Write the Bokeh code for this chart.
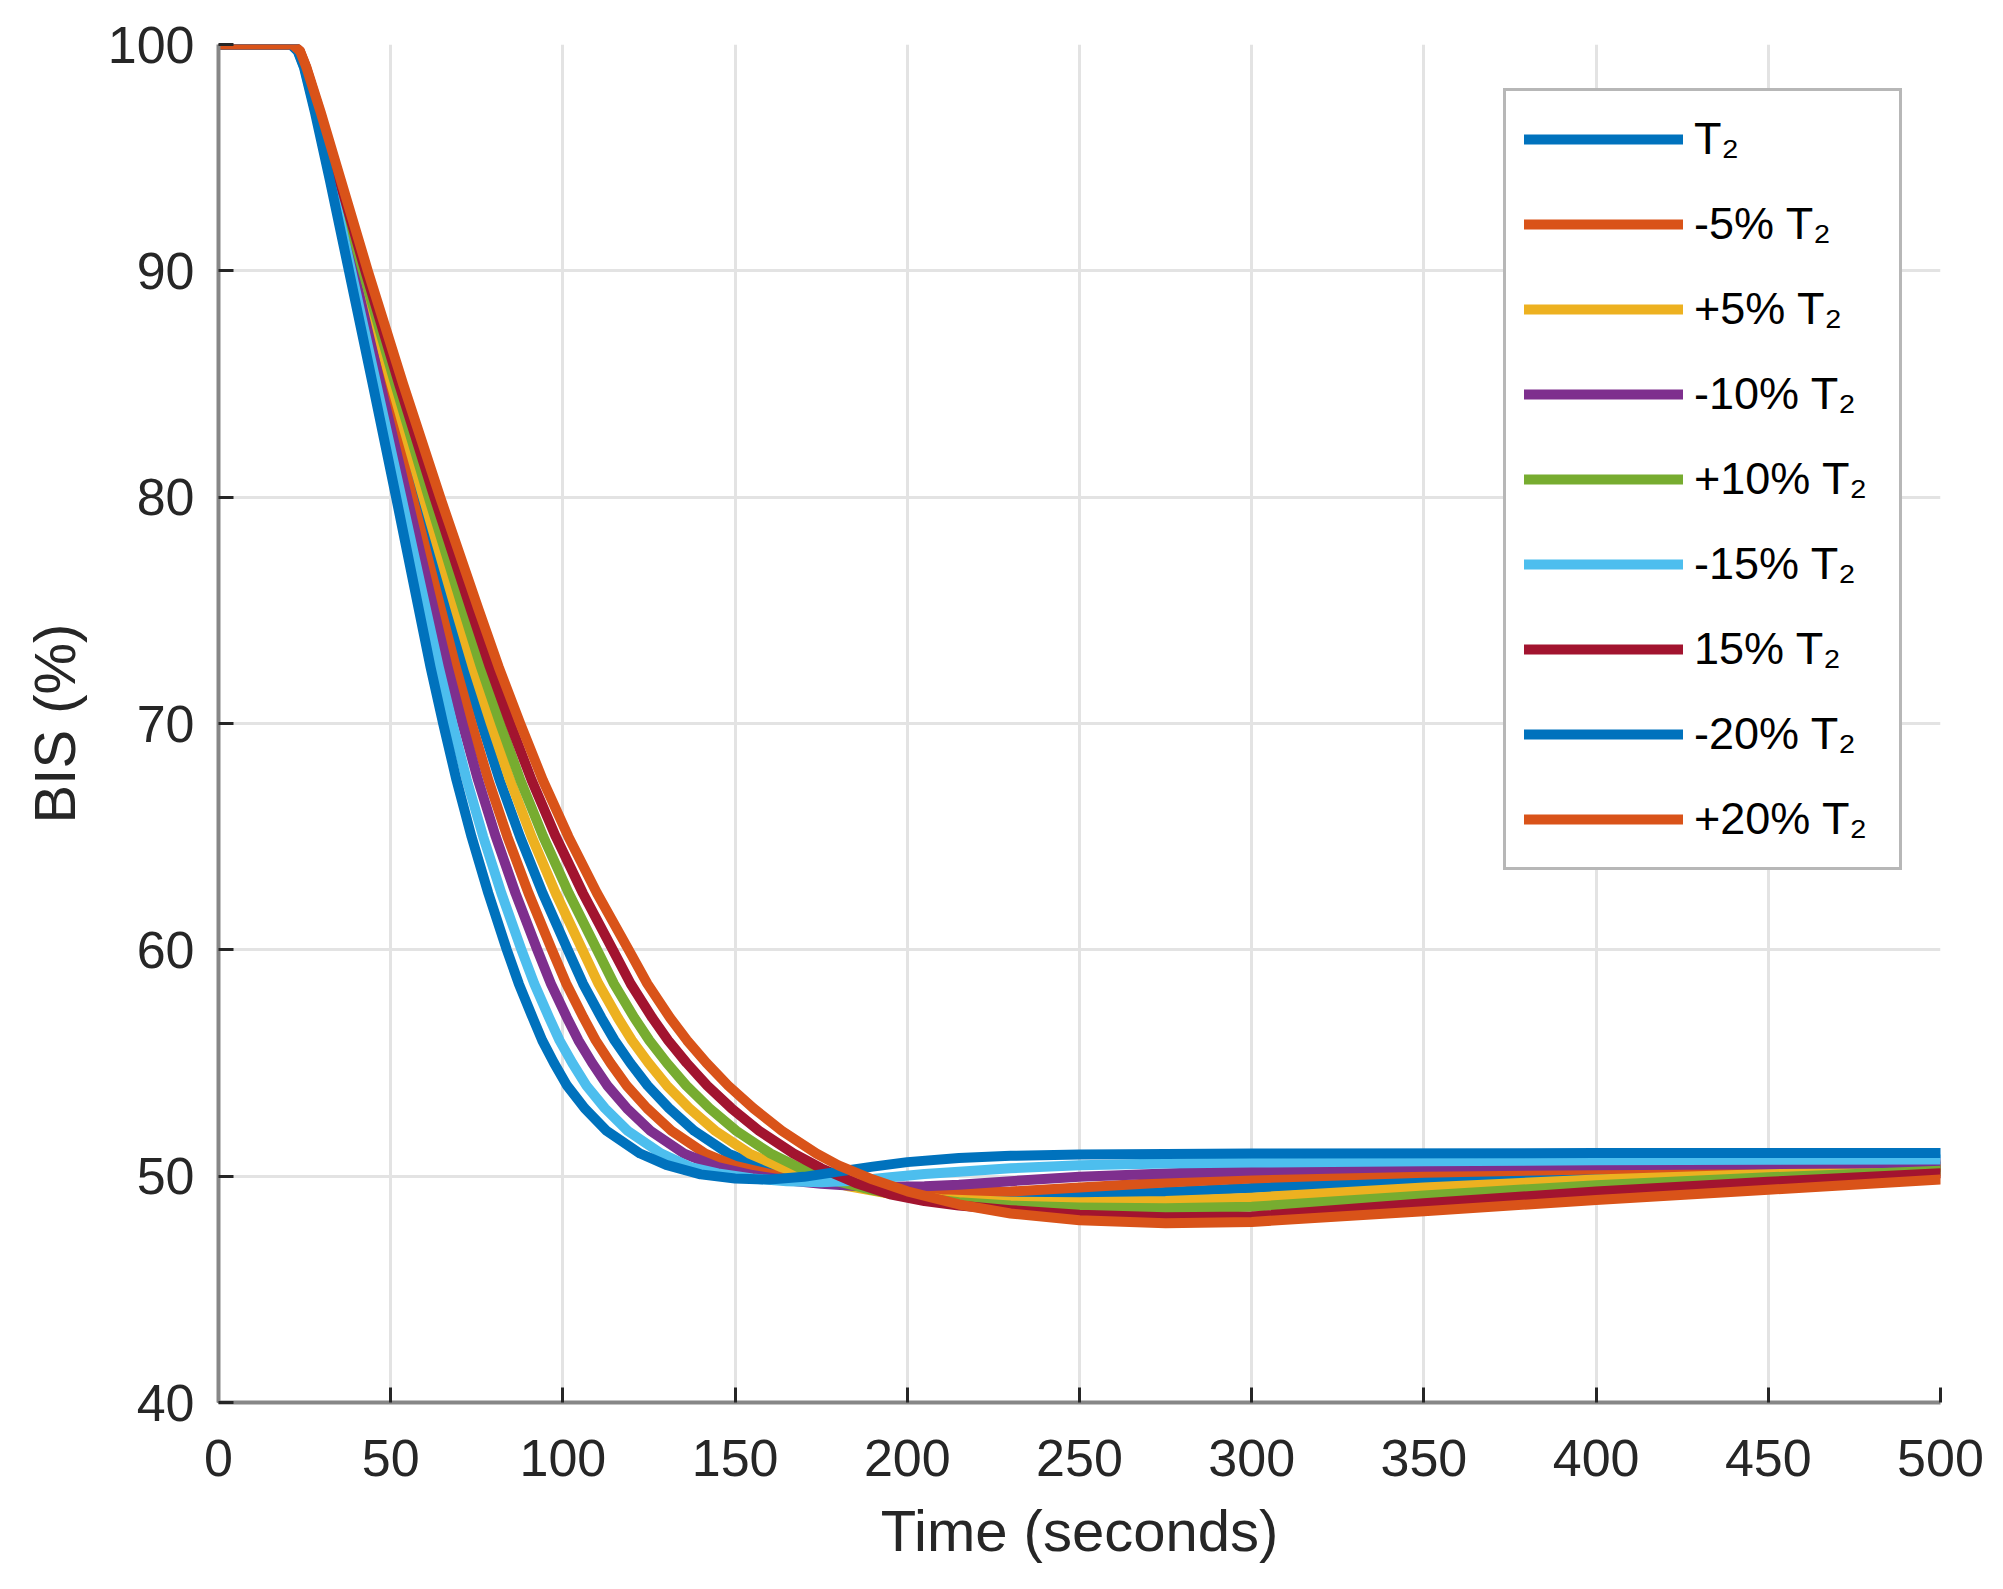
from bokeh.plotting import figure
from bokeh.models import Range1d, FixedTicker
from bokeh.embed import file_html
from bokeh.resources import INLINE

# ---- data ----
labels = ["T\u2082", "-5% T\u2082", "+5% T\u2082", "-10% T\u2082", "+10% T\u2082",
          "-15% T\u2082", "15% T\u2082", "-20% T\u2082", "+20% T\u2082"]
colors = ["#0072BD", "#D95319", "#EDB120", "#7E2F8E", "#77AC30",
          "#4DBEEE", "#A2142F", "#0072BD", "#D95319"]

x_ticks = [0, 50, 100, 150, 200, 250, 300, 350, 400, 450, 500]
y_ticks = [40, 50, 60, 70, 80, 90, 100]

# BIS levels passed during the descent (shared by all series)
descent_levels = [100, 100, 99.7, 99, 97, 94, 90, 85, 80, 75, 72.5, 70, 67.5, 65, 62.5,
                  60, 58.5, 57, 56, 55, 54, 53, 52, 51]

# times (s) at which each series passes the descent levels
t_T2  = [0, 21.25, 23.35, 25.15, 28.85, 33.95, 40.61, 49.19, 57.96, 66.91, 71.46, 76.41, 81.63, 87.54, 94.13, 101.41, 105.86, 111.16, 115.01, 119.56, 124.61, 130.81, 138.16, 148.01]
t_m5  = [0, 21.19, 23.26, 25.06, 28.63, 33.53, 39.9, 48.04, 56.3, 64.65, 68.88, 73.5, 78.37, 83.88, 90.03, 96.81, 101.0, 105.98, 109.53, 113.8, 118.52, 124.44, 131.55, 141.36]
t_p5  = [0, 21.31, 23.43, 25.23, 29.05, 34.33, 41.27, 50.24, 59.49, 68.98, 73.83, 79.1, 84.64, 90.91, 97.92, 105.66, 110.34, 115.95, 120.04, 124.87, 130.22, 136.69, 144.27, 154.15]
t_m10 = [0, 21.13, 23.18, 24.98, 28.43, 33.15, 39.24, 46.98, 54.77, 62.57, 66.52, 70.82, 75.36, 80.5, 86.24, 92.57, 96.53, 101.19, 104.5, 108.49, 112.92, 118.57, 125.44, 135.22]
t_p10 = [0, 21.37, 23.52, 25.32, 29.26, 34.72, 41.93, 51.3, 61.03, 71.08, 76.2, 81.78, 87.65, 94.29, 101.71, 109.9, 114.82, 120.73, 125.09, 130.19, 135.84, 142.57, 150.37, 160.29]
t_m15 = [0, 21.06, 23.08, 24.88, 28.2, 32.73, 38.53, 45.83, 53.1, 60.31, 63.94, 67.91, 72.11, 76.85, 82.14, 87.97, 91.69, 96.01, 99.02, 102.73, 106.83, 112.2, 118.83, 128.56]
t_p15 = [0, 21.44, 23.61, 25.41, 29.48, 35.13, 42.64, 52.45, 62.69, 73.34, 78.78, 84.69, 90.9, 97.94, 105.81, 114.5, 119.67, 125.92, 130.56, 135.94, 141.91, 148.93, 156.99, 166.95]
t_m20 = [0, 21.0, 23.0, 24.8, 28.0, 32.35, 37.87, 44.77, 51.57, 58.22, 61.56, 65.22, 69.1, 73.47, 78.35, 83.72, 87.2, 91.22, 93.99, 97.42, 101.22, 106.32, 112.72, 122.42]
t_p20 = [0, 21.5, 23.7, 25.5, 29.7, 35.55, 43.35, 53.6, 64.35, 75.6, 81.35, 87.6, 94.16, 101.6, 109.91, 119.1, 124.52, 131.1, 136.03, 141.7, 148.0, 155.3, 163.6, 173.6]

# settling part of each series: times and BIS values
tail_t_T2  = [157, 167, 177, 187, 200, 215, 230, 250, 275, 300, 350, 400, 450, 500]
tail_v_T2  = [50.45, 50.05, 49.75, 49.52, 49.32, 49.18, 49.12, 49.15, 49.3, 49.48, 49.85, 50.03, 50.23, 50.4]
tail_t_m5  = [150, 160, 170, 180, 190, 200, 215, 230, 250, 275, 300, 350, 400, 450, 500]
tail_v_m5  = [50.45, 50.1, 49.85, 49.65, 49.5, 49.4, 49.31, 49.32, 49.5, 49.72, 49.9, 50.15, 50.3, 50.4, 50.47]
tail_t_p5  = [163, 173, 183, 195, 210, 230, 250, 275, 300, 350, 400, 450, 500]
tail_v_p5  = [50.42, 49.93, 49.55, 49.22, 48.98, 48.87, 48.85, 48.9, 49.05, 49.5, 49.85, 50.1, 50.33]
tail_t_m10 = [145, 155, 165, 175, 185, 195, 205, 215, 230, 250, 275, 300, 350, 400, 450, 500]
tail_v_m10 = [50.4, 50.05, 49.82, 49.66, 49.57, 49.53, 49.55, 49.62, 49.78, 49.97, 50.12, 50.25, 50.42, 50.48, 50.53, 50.58]
tail_t_p10 = [169, 179, 190, 200, 215, 230, 250, 275, 300, 350, 400, 450, 500]
tail_v_p10 = [50.35, 49.8, 49.38, 49.1, 48.85, 48.7, 48.62, 48.58, 48.65, 49.15, 49.6, 49.95, 50.24]
tail_t_m15 = [137, 145, 155, 165, 175, 185, 195, 205, 215, 230, 250, 275, 300, 350, 400, 450, 500]
tail_v_m15 = [50.4, 50.12, 49.9, 49.77, 49.73, 49.8, 49.95, 50.1, 50.2, 50.35, 50.48, 50.56, 50.6, 50.66, 50.7, 50.72, 50.74]
tail_t_p15 = [175, 185, 195, 205, 215, 230, 250, 275, 300, 350, 400, 450, 500]
tail_v_p15 = [50.35, 49.7, 49.2, 48.9, 48.7, 48.5, 48.3, 48.18, 48.22, 48.8, 49.32, 49.75, 50.13]
tail_t_m20 = [130, 140, 150, 160, 170, 180, 190, 200, 215, 230, 250, 300, 400, 500]
tail_v_m20 = [50.5, 50.08, 49.9, 49.85, 49.97, 50.2, 50.42, 50.62, 50.8, 50.9, 50.96, 51.0, 51.02, 51.02]
tail_t_p20 = [180, 190, 200, 215, 230, 250, 275, 300, 350, 400, 450, 500]
tail_v_p20 = [50.48, 49.85, 49.33, 48.75, 48.35, 48.05, 47.92, 47.98, 48.45, 48.95, 49.4, 49.85]

series = [
    (t_T2, tail_t_T2, tail_v_T2),
    (t_m5, tail_t_m5, tail_v_m5),
    (t_p5, tail_t_p5, tail_v_p5),
    (t_m10, tail_t_m10, tail_v_m10),
    (t_p10, tail_t_p10, tail_v_p10),
    (t_m15, tail_t_m15, tail_v_m15),
    (t_p15, tail_t_p15, tail_v_p15),
    (t_m20, tail_t_m20, tail_v_m20),
    (t_p20, tail_t_p20, tail_v_p20),
]

FONT = "Liberation Sans"
TEXT = "#262626"

p = figure(width=1987, height=1573, output_backend="svg", toolbar_location=None,
           x_range=Range1d(0, 500), y_range=Range1d(40, 100),
           min_border_left=218, min_border_right=47, min_border_top=44, min_border_bottom=171)
p.background_fill_color = "white"
p.border_fill_color = "white"
p.outline_line_color = None

for (td, tt, tv), lab, col in zip(series, labels, colors):
    p.line(td + tt, descent_levels + tv, line_color=col, line_width=10,
           line_join="round", line_cap="round", legend_label=lab)

for ax in (p.xaxis[0], p.yaxis[0]):
    ax.axis_line_color = "#878787"
    ax.axis_line_width = 4
    ax.major_tick_line_color = TEXT
    ax.major_tick_line_width = 3
    ax.major_tick_in = 15
    ax.major_tick_out = 0
    ax.minor_tick_line_color = None
    ax.major_label_text_font = FONT
    ax.major_label_text_font_size = "52px"
    ax.major_label_text_color = TEXT
    ax.axis_label_text_font = FONT
    ax.axis_label_text_font_size = "58px"
    ax.axis_label_text_font_style = "normal"
    ax.axis_label_text_color = TEXT

p.xaxis[0].ticker = FixedTicker(ticks=x_ticks)
p.yaxis[0].ticker = FixedTicker(ticks=y_ticks)
p.xaxis[0].axis_label = "Time (seconds)"
p.yaxis[0].axis_label = "BIS (%)"
p.xaxis[0].major_label_standoff = 37
p.yaxis[0].major_label_standoff = 24
p.xaxis[0].axis_label_standoff = 19
p.yaxis[0].axis_label_standoff = 18

for g in (p.xgrid[0], p.ygrid[0]):
    g.grid_line_color = "#e3e3e3"
    g.grid_line_width = 3

leg = p.legend[0]
leg.location = (1285, 532)
leg.margin = 0
leg.padding = 18
leg.spacing = 25
leg.glyph_width = 159
leg.glyph_height = 60
leg.label_height = 60
leg.label_width = 187
leg.label_standoff = 11
leg.label_text_font = FONT
leg.label_text_font_size = "45px"
leg.label_text_color = "#000000"
leg.border_line_color = "#6f6f6f"
leg.border_line_width = 3
leg.background_fill_color = "white"
leg.background_fill_alpha = 1.0

open("out.html", "w").write(file_html(p, INLINE))
